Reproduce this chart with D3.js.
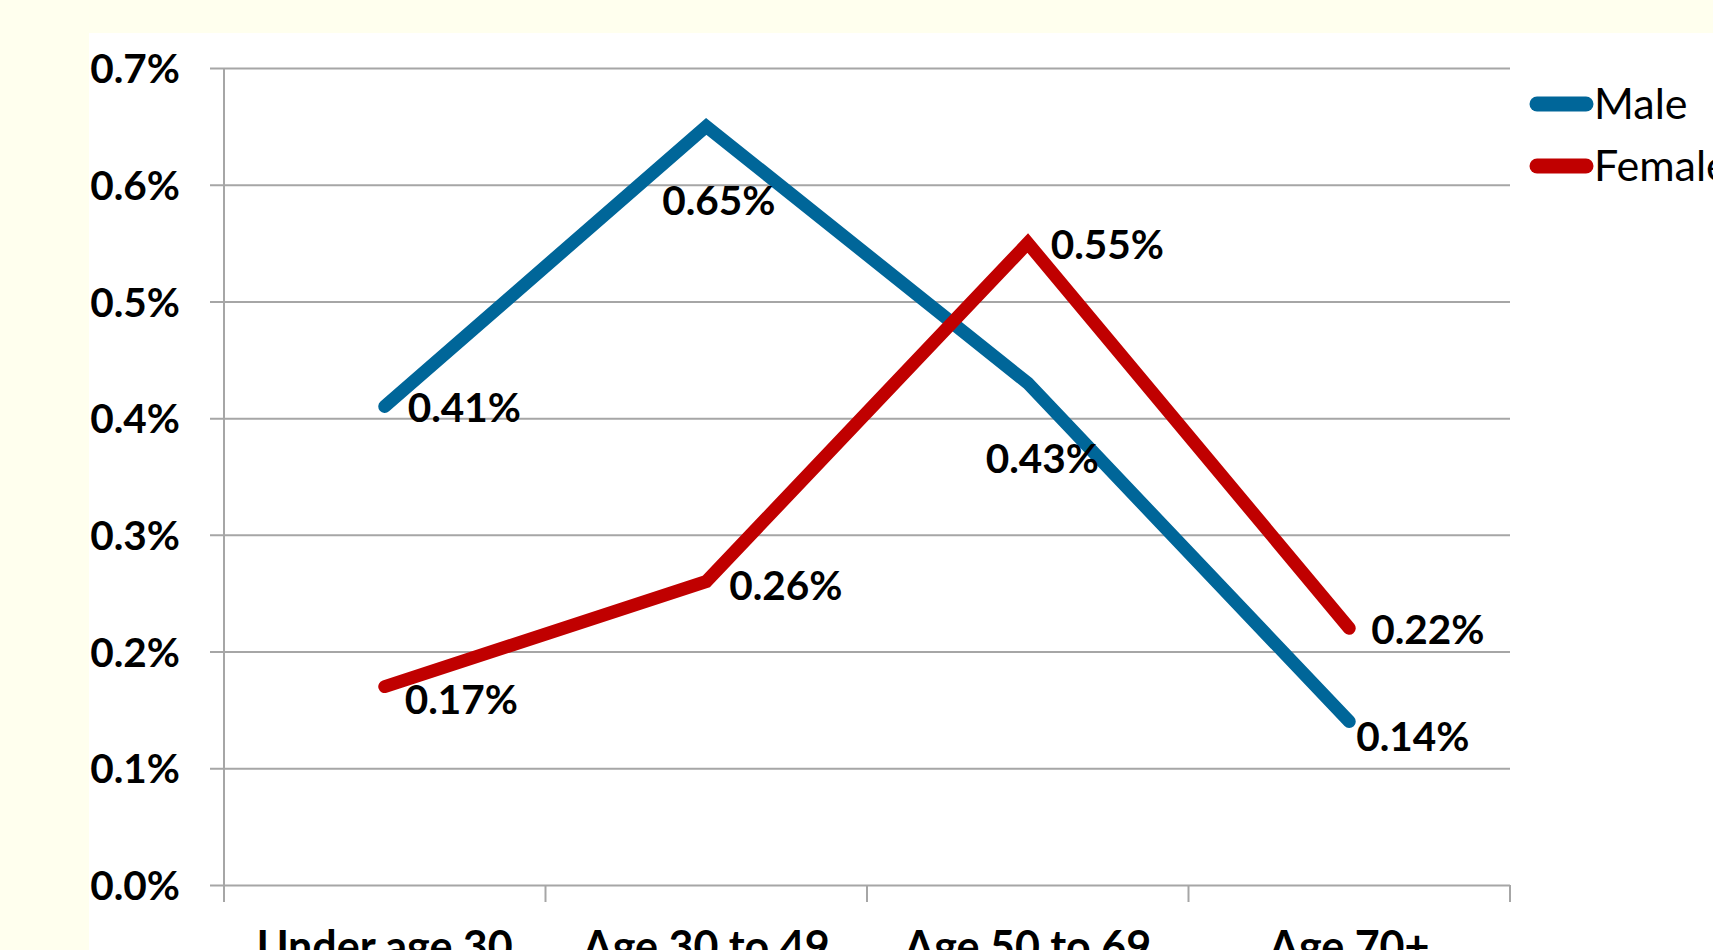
<!DOCTYPE html>
<html>
<head>
<meta charset="utf-8">
<script src="https://cdn.jsdelivr.net/npm/d3@7"></script>
<style>
  html, body { margin: 0; padding: 0; background: #FFFFEE; overflow: hidden; }
  svg { display: block; }
</style>
</head>
<body>
<svg id="chart" width="1713" height="950"></svg>
<script>
// ---- data ----
const categories = ["Under age 30", "Age 30 to 49", "Age 50 to 69", "Age 70+"];
const maleValues = [0.41, 0.65, 0.43, 0.14];
const femaleValues = [0.17, 0.26, 0.55, 0.22];
const yTicks = [0, 0.1, 0.2, 0.3, 0.4, 0.5, 0.6, 0.7];
const seriesNames = ["Male", "Female"];

// ---- layout / style ----
const W = 1713, H = 950;
const plot = { left: 224, right: 1510, top: 68, bottom: 885 };
const colors = { Male: "#006699", Female: "#C00000" };
// label offsets (left edge dx, vertical centre dy) relative to each point
const labelOffsets = {
  Male:   [[23, 1], [-44, 74], [-42, 75], [7, 15]],
  Female: [[20, 13], [23, 4], [23, 1], [22, 1]]
};
const FONT = "Lato, 'Liberation Sans', Arial, sans-serif";

const svg = d3.select("#chart");
svg.append("rect").attr("x", 0).attr("y", 0).attr("width", W).attr("height", H).attr("fill", "#FFFFEE");
svg.append("rect").attr("x", 89).attr("y", 33).attr("width", W - 89).attr("height", H - 33).attr("fill", "#FFFFFF");

const x = d3.scaleBand().domain(categories).range([plot.left, plot.right]).paddingInner(0).paddingOuter(0);
const cx = c => x(c) + x.bandwidth() / 2;
const y = d3.scaleLinear().domain([0, 0.7]).range([plot.bottom, plot.top]);

const gridColor = "#A6A6A6";

// y axis with gridlines and labels
const yAxis = d3.axisLeft(y).tickValues(yTicks).tickSize(plot.right - 210).tickPadding(30)
  .tickFormat(d => d.toFixed(1) + "%");
const gy = svg.append("g").attr("transform", `translate(${plot.right},0)`).call(yAxis);
gy.select(".domain").remove();
gy.selectAll(".tick line").attr("stroke", gridColor).attr("stroke-width", 2);
gy.selectAll(".tick text")
  .attr("font-family", FONT).attr("font-weight", "bold").attr("font-size", 40.5)
  .attr("fill", "#000").attr("dy", "0.36em");

// vertical axis line
svg.append("line").attr("x1", plot.left).attr("x2", plot.left)
  .attr("y1", y(0.7)).attr("y2", y(0) + 17).attr("stroke", gridColor).attr("stroke-width", 2);

// x axis category tick marks at band boundaries
const boundaries = categories.map(c => x(c)).concat([x(categories[categories.length - 1]) + x.bandwidth()]);
svg.append("g").selectAll("line").data(boundaries).join("line")
  .attr("x1", d => d).attr("x2", d => d)
  .attr("y1", y(0)).attr("y2", y(0) + 17)
  .attr("stroke", gridColor).attr("stroke-width", 2);

// x axis labels
const xAxis = d3.axisBottom(x).tickSize(0).tickPadding(0);
const gx = svg.append("g").attr("transform", `translate(0,${y(0)})`).call(xAxis);
gx.select(".domain").remove();
gx.selectAll(".tick text")
  .attr("font-family", FONT).attr("font-weight", "bold").attr("font-size", 43)
  .attr("fill", "#000").attr("y", 77).attr("dy", 0);

// lines
const series = [
  { name: "Male", values: maleValues },
  { name: "Female", values: femaleValues }
];
const lineGen = d3.line().x((d, i) => cx(categories[i])).y(d => y(d));
svg.append("g").selectAll("path").data(series).join("path")
  .attr("d", s => lineGen(s.values))
  .attr("fill", "none")
  .attr("stroke", s => colors[s.name])
  .attr("stroke-width", 13)
  .attr("stroke-linecap", "round")
  .attr("stroke-linejoin", "miter");

// data labels
series.forEach(s => {
  svg.append("g").selectAll("text").data(s.values).join("text")
    .attr("x", (d, i) => cx(categories[i]) + labelOffsets[s.name][i][0])
    .attr("y", (d, i) => y(d) + labelOffsets[s.name][i][1])
    .attr("dy", "0.36em")
    .attr("font-family", FONT).attr("font-weight", "bold").attr("font-size", 40.5)
    .attr("fill", "#000")
    .text(d => d.toFixed(2) + "%");
});

// legend
const legend = svg.append("g");
const legendY = [104, 166];
seriesNames.forEach((n, i) => {
  legend.append("line").attr("x1", 1537).attr("x2", 1586)
    .attr("y1", legendY[i]).attr("y2", legendY[i])
    .attr("stroke", colors[n]).attr("stroke-width", 15).attr("stroke-linecap", "round");
  legend.append("text").attr("x", 1594).attr("y", legendY[i]).attr("dy", "0.34em")
    .attr("font-family", FONT).attr("font-size", 43).attr("fill", "#000").text(n);
});
</script>
</body>
</html>
